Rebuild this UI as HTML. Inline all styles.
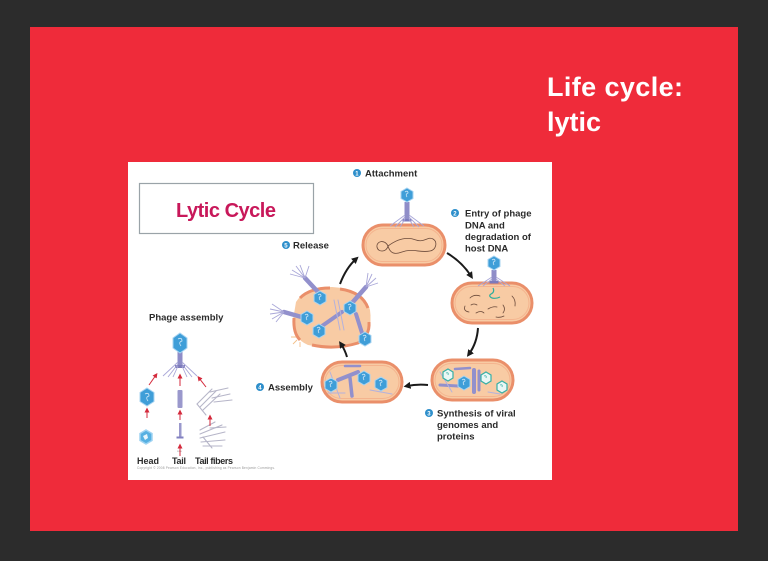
<!DOCTYPE html>
<html><head><meta charset="utf-8"><style>
html,body{margin:0;padding:0;width:768px;height:561px;overflow:hidden;background:#2c2c2c;}
svg{position:absolute;left:0;top:0;}
</style></head><body>
<svg width="768" height="561" viewBox="0 0 768 561" xmlns="http://www.w3.org/2000/svg" font-family="'Liberation Sans', Arial, sans-serif">
<defs>
  <marker id="ah" viewBox="0 0 8 8" refX="4" refY="4" markerWidth="7" markerHeight="7" markerUnits="userSpaceOnUse" orient="auto">
    <path d="M0,0 L8,4 L0,8 z" fill="#1a1a1a"/>
  </marker>
  <marker id="rh" viewBox="0 0 8 8" refX="4" refY="4" markerWidth="5" markerHeight="5" markerUnits="userSpaceOnUse" orient="auto">
    <path d="M0,0 L8,4 L0,8 z" fill="#d42a3c"/>
  </marker>
  <g id="hd">
    <polygon points="0,-7 6,-3.5 6,3.5 0,7 -6,3.5 -6,-3.5" fill="#3f9ed8" stroke="#a8d4f2" stroke-width="1"/>
    <path d="M-2,-3 q3,-2 3,1 q-3,1 -1,4" stroke="#cfe8f8" fill="none" stroke-width="0.8"/>
  </g>
  <g id="th">
    <polygon points="0,-6 5,-3 5,3 0,6 -5,3 -5,-3" fill="#eaf7f5" stroke="#38b0a6" stroke-width="1.2"/>
    <path d="M-2,-2 q3,-1 2,2" stroke="#38b0a6" fill="none" stroke-width="0.8"/>
  </g>
  <g id="ph">
    <rect x="-2.5" y="7" width="5" height="19" fill="#8f8dc8"/>
    <rect x="-4.5" y="24" width="9" height="2.5" fill="#7c7abb"/>
    <path d="M-2,20 L-17,31 M-2,22 L-12,32 M-2,24 L-7,32 M2,20 L17,31 M2,22 L12,32 M2,24 L7,32" stroke="#a9a7d8" stroke-width="0.9" fill="none"/>
    <use href="#hd"/>
  </g>
</defs>

<rect x="0" y="0" width="768" height="561" fill="#2c2c2c"/>
<rect x="30" y="27" width="708" height="504" fill="#ef2b3a"/>
<text x="547" y="96" font-size="27" font-weight="bold" fill="#fff" textLength="136">Life cycle:</text>
<text x="547" y="131" font-size="27" font-weight="bold" fill="#fff">lytic</text>

<rect x="128" y="162" width="424" height="318" fill="#fff"/>

<!-- Title box -->
<rect x="139.5" y="183.5" width="174" height="50" fill="#fff" stroke="#9aa3a8" stroke-width="1.2"/>
<text x="176" y="217" font-size="20" font-weight="bold" fill="#c8185a" textLength="100">Lytic Cycle</text>

<!-- Labels -->
<g font-size="9.5" font-weight="bold" fill="#2a2a2a">
  <circle cx="357" cy="173" r="4" fill="#2e8fcb"/><text x="355.2" y="175.3" font-size="6" fill="#fff">1</text>
  <text x="365" y="176.5">Attachment</text>
  <circle cx="455" cy="213" r="4" fill="#2e8fcb"/><text x="453.2" y="215.3" font-size="6" fill="#fff">2</text>
  <text x="465" y="216.5">Entry of phage</text>
  <text x="465" y="228.5">DNA and</text>
  <text x="465" y="240">degradation of</text>
  <text x="465" y="251.5">host DNA</text>
  <circle cx="286" cy="245" r="4" fill="#2e8fcb"/><text x="284.2" y="247.3" font-size="6" fill="#fff">5</text>
  <text x="293" y="248.5">Release</text>
  <circle cx="429" cy="413" r="4" fill="#2e8fcb"/><text x="427.2" y="415.3" font-size="6" fill="#fff">3</text>
  <text x="437" y="416.5">Synthesis of viral</text>
  <text x="437" y="428">genomes and</text>
  <text x="437" y="439.5">proteins</text>
  <circle cx="260" cy="387" r="4" fill="#2e8fcb"/><text x="258.2" y="389.3" font-size="6" fill="#fff">4</text>
  <text x="268" y="390.5">Assembly</text>
  <text x="149" y="320.5">Phage assembly</text>
  <text x="137" y="464" font-size="9" textLength="22">Head</text>
  <text x="172" y="464" font-size="9" textLength="14">Tail</text>
  <text x="195" y="464" font-size="9" textLength="38">Tail fibers</text>
</g>
<text x="137" y="469" font-size="3.2" fill="#999" textLength="138">Copyright © 2008 Pearson Education, Inc., publishing as Pearson Benjamin Cummings.</text>

<!-- Cell 1 -->
<rect x="363" y="225" width="82" height="40" rx="20" fill="#f8cba4" stroke="#ea8f6a" stroke-width="3"/>
<rect x="366" y="228.5" width="76" height="33" rx="16.5" fill="none" stroke="#f4b48e" stroke-width="1"/>
<path d="M388,246 c-3,-7 -12,-5 -11,1 c1,6 10,5 11,-1 c8,-6 18,-10 28,-6 c8,3 12,-4 17,-1 c5,3 3,11 -3,12 c-10,2 -18,-3 -28,1 c-8,3 -12,1 -14,-6" stroke="#6b4a3a" stroke-width="0.8" fill="none"/>
<use href="#ph" transform="translate(407,195)"/>

<!-- Cell 2 -->
<rect x="452" y="283" width="80" height="40" rx="20" fill="#f8cba4" stroke="#ea8f6a" stroke-width="3"/>
<rect x="455" y="286.5" width="74" height="33" rx="16.5" fill="none" stroke="#f4b48e" stroke-width="1"/>
<g stroke="#6b4a3a" stroke-width="0.8" fill="none" stroke-linecap="round">
  <path d="M470,298 q4,-4 10,-2"/><path d="M465,306 q-2,5 4,6"/><path d="M476,313 q5,-3 8,0"/>
  <path d="M488,309 q5,-3 9,-2"/><path d="M503,305 q3,4 0,8"/><path d="M512,296 q4,4 3,10"/><path d="M496,317 q4,1 8,-1"/><path d="M471,305 q3,-2 6,0"/>
</g>
<path d="M493,288 q2,4 -2,6 q-3,2 1,4 q4,1 8,-1" stroke="#2fae9c" stroke-width="1.2" fill="none"/>
<g>
  <rect x="491.5" y="270" width="5" height="12" fill="#8f8dc8"/>
  <rect x="489.5" y="281" width="9" height="2.5" fill="#7c7abb"/>
  <path d="M492,277 L478,286 M492,279 L483,286 M496,277 L510,286 M496,279 L505,286" stroke="#a9a7d8" stroke-width="0.9"/>
  <use href="#hd" transform="translate(494,263)"/>
</g>

<!-- Cell 3 -->
<rect x="432" y="360" width="81" height="40" rx="20" fill="#f8cba4" stroke="#ea8f6a" stroke-width="3"/>
<rect x="435" y="363.5" width="75" height="33" rx="16.5" fill="none" stroke="#f4b48e" stroke-width="1"/>
<g stroke="#9290cc" stroke-linecap="round">
  <line x1="474" y1="370" x2="474" y2="392" stroke-width="4"/>
  <line x1="479" y1="371" x2="479" y2="390" stroke-width="3"/>
  <line x1="440" y1="385" x2="458" y2="386" stroke-width="3"/>
  <line x1="455" y1="369" x2="470" y2="368" stroke-width="2.5"/>
  <line x1="488" y1="392" x2="500" y2="394" stroke-width="1" stroke="#b4b2dc"/>
  <line x1="440" y1="372" x2="452" y2="392" stroke-width="1" stroke="#b4b2dc"/>
</g>
<use href="#th" transform="translate(448,375)"/>
<use href="#hd" transform="translate(464,383)"/>
<use href="#th" transform="translate(486,378)"/>
<use href="#th" transform="translate(502,387)"/>

<!-- Cell 4 -->
<rect x="322" y="362" width="80" height="40" rx="20" fill="#f8cba4" stroke="#ea8f6a" stroke-width="3"/>
<rect x="325" y="365.5" width="74" height="33" rx="16.5" fill="none" stroke="#f4b48e" stroke-width="1"/>
<g stroke="#9290cc" stroke-linecap="round">
  <line x1="338" y1="380" x2="358" y2="372" stroke-width="4"/>
  <line x1="350" y1="378" x2="352" y2="396" stroke-width="3.5"/>
  <line x1="328" y1="393" x2="345" y2="393" stroke-width="1" stroke="#b4b2dc"/>
  <line x1="345" y1="366" x2="360" y2="366" stroke-width="2.5"/>
  <line x1="370" y1="390" x2="392" y2="394" stroke-width="1" stroke="#b4b2dc"/>
  <line x1="330" y1="372" x2="340" y2="398" stroke-width="1" stroke="#b4b2dc"/>
</g>
<use href="#hd" transform="translate(331,385)"/>
<use href="#hd" transform="translate(364,378)"/>
<use href="#hd" transform="translate(381,384)"/>

<!-- Cell 5 (release) -->
<path d="M296,302 Q305,287 332,287 Q364,289 370,310 Q373,332 360,343 Q334,350 308,345 Q292,338 293,320 Z" fill="#f8cba4"/>
<path d="M300,298 Q310,288 330,288" stroke="#ea8f6a" stroke-width="3" fill="none"/>
<path d="M340,289 Q362,292 368,308" stroke="#ea8f6a" stroke-width="3" fill="none"/>
<path d="M369,322 Q370,336 358,343 Q335,350 312,345" stroke="#ea8f6a" stroke-width="3" fill="none"/>
<path d="M294,318 Q293,333 300,340" stroke="#ea8f6a" stroke-width="3" fill="none"/>
<g stroke="#9290cc" stroke-linecap="round" fill="none">
  <line x1="318" y1="292" x2="305" y2="278" stroke-width="4.5"/>
  <line x1="305" y1="318" x2="284" y2="312" stroke-width="4.5"/>
  <line x1="352" y1="303" x2="366" y2="287" stroke-width="4.5"/>
  <line x1="322" y1="326" x2="342" y2="312" stroke-width="4"/>
  <line x1="362" y1="333" x2="356" y2="314" stroke-width="4"/>
  <line x1="334" y1="300" x2="340" y2="330" stroke-width="1" stroke="#b4b2dc"/>
  <line x1="338" y1="300" x2="344" y2="330" stroke-width="1" stroke="#b4b2dc"/>
</g>
<g stroke="#a9a7d8" stroke-width="0.9" fill="none">
  <path d="M305,278 L296,266 M305,278 L300,265 M305,278 L292,270 M305,278 L290,274 M305,278 L309,266"/>
  <path d="M284,312 L272,304 M284,312 L270,309 M284,312 L270,314 M284,312 L272,319 M284,312 L276,322"/>
  <path d="M366,287 L372,274 M366,287 L376,278 M366,287 L378,283 M366,287 L368,273"/>
  <path d="M297,340 l-4,4 M300,342 l0,5 M296,337 l-5,0" stroke="#f3c08a"/>
</g>
<use href="#hd" transform="translate(320,298)"/>
<use href="#hd" transform="translate(307,318)"/>
<use href="#hd" transform="translate(319,331)"/>
<use href="#hd" transform="translate(350,308)"/>
<use href="#hd" transform="translate(365,339)"/>

<!-- Cycle arrows -->
<g stroke="#1a1a1a" stroke-width="2" fill="none">
  <path d="M340,284 Q346,268 356,259" marker-end="url(#ah)"/>
  <path d="M447,253 Q462,262 471,276" marker-end="url(#ah)"/>
  <path d="M478,328 Q477,343 469,354" marker-end="url(#ah)"/>
  <path d="M428,385 Q417,384 407,386" marker-end="url(#ah)"/>
  <path d="M347,357 Q345,350 341,344" marker-end="url(#ah)"/>
</g>

<!-- Phage assembly -->
<g>
  <rect x="177.5" y="352" width="5" height="14" fill="#8f8dc8"/>
  <rect x="175" y="365" width="10" height="3" fill="#7c7abb"/>
  <path d="M178,362 L163,376 M178,364 L168,377 M178,366 L173,377 M182,362 L197,376 M182,364 L192,377 M182,366 L187,377" stroke="#a9a7d8" stroke-width="0.9"/>
  <polygon points="180,333 187,338 187,348 180,353 173,348 173,338" fill="#3f9ed8" stroke="#a8d4f2" stroke-width="1"/>
  <path d="M178,339 q4,-2 4,2 q-4,1 -1,5" stroke="#cfe8f8" fill="none" stroke-width="0.8"/>

  <polygon points="147,388 154,392.5 154,401.5 147,406 140,401.5 140,392.5" fill="#3f9ed8" stroke="#a8d4f2" stroke-width="1"/>
  <path d="M145,394 q4,-2 4,2 q-4,1 -1,5" stroke="#cfe8f8" fill="none" stroke-width="0.8"/>

  <polygon points="146,430 152,433.5 152,440.5 146,444 140,440.5 140,433.5" fill="#56b0e2" stroke="#9fd3f2" stroke-width="1.5"/>
  <path d="M143,436 l4,-2 l1,4 l-3,2 z" fill="#e8f5fc"/>

  <rect x="177.5" y="390" width="5" height="18" rx="1" fill="#9a98cc"/>
  <rect x="179" y="423" width="2.5" height="14" fill="#9a98cc"/>
  <rect x="176.5" y="436.5" width="7" height="2" fill="#8280c0"/>
  <text x="177" y="452" font-size="2.5" fill="#999">core</text>

  <g stroke="#b6b5c8" stroke-width="1.1" stroke-linecap="round">
    <line x1="197" y1="404" x2="212" y2="389"/>
    <line x1="200" y1="407" x2="216" y2="391"/>
    <line x1="203" y1="410" x2="220" y2="394"/>
    <line x1="197" y1="404" x2="206" y2="415"/>
    <line x1="212" y1="398" x2="230" y2="394"/>
    <line x1="214" y1="402" x2="232" y2="400"/>
    <line x1="210" y1="392" x2="228" y2="388"/>
    <line x1="200" y1="430" x2="215" y2="422"/>
    <line x1="200" y1="434" x2="222" y2="425"/>
    <line x1="200" y1="438" x2="225" y2="432"/>
    <line x1="201" y1="442" x2="225" y2="440"/>
    <line x1="203" y1="446" x2="222" y2="446"/>
    <line x1="203" y1="437" x2="212" y2="448"/>
    <line x1="210" y1="428" x2="226" y2="427"/>
  </g>

  <g stroke="#d42a3c" stroke-width="1" fill="none">
    <line x1="149" y1="385" x2="156" y2="375" marker-end="url(#rh)"/>
    <line x1="180" y1="386" x2="180" y2="376" marker-end="url(#rh)"/>
    <line x1="206" y1="387" x2="199" y2="378" marker-end="url(#rh)"/>
    <line x1="147" y1="418" x2="147" y2="410" marker-end="url(#rh)"/>
    <line x1="180" y1="420" x2="180" y2="412" marker-end="url(#rh)"/>
    <line x1="180" y1="456" x2="180" y2="446" marker-end="url(#rh)"/>
    <line x1="210" y1="426" x2="210" y2="417" marker-end="url(#rh)"/>
  </g>
</g>
</svg>
</body></html>
